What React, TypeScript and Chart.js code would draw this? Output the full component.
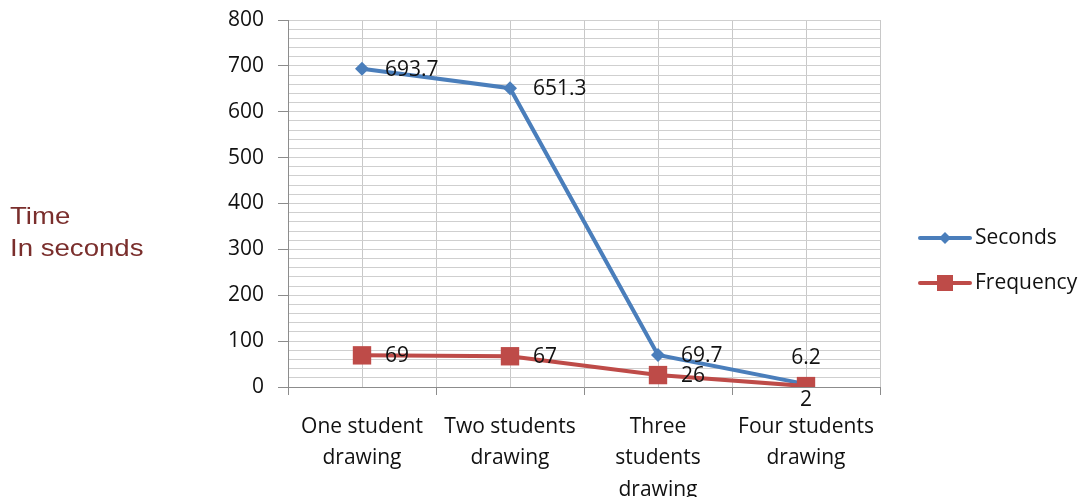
import React, { useEffect, useRef } from "react";
import { Chart, registerables } from "chart.js";

Chart.register(...registerables);

const categories: string[][] = [
  ["One student", "drawing"],
  ["Two students", "drawing"],
  ["Three", "students", "drawing"],
  ["Four students", "drawing"],
];
const secondsValues = [693.7, 651.3, 69.7, 6.2];
const frequencyValues = [69, 67, 26, 2];
const yTickLabels = [0, 100, 200, 300, 400, 500, 600, 700, 800];

const BLUE = "#4A7EBB";
const RED = "#BE4B48";
const FONT = "'Open Sans', 'Noto Sans', sans-serif";

// where each value label sits relative to its point
const secondsPlacement = ["right", "right", "right", "above"];
const frequencyPlacement = ["right", "right", "right", "below"];

const valueLabels = {
  id: "valueLabels",
  afterDatasetsDraw(chart: Chart) {
    const ctx = chart.ctx;
    ctx.save();
    ctx.font = `21px ${FONT}`;
    ctx.fillStyle = "#111";
    chart.data.datasets.forEach((ds: any, di: number) => {
      const meta = chart.getDatasetMeta(di);
      const placement = di === 0 ? secondsPlacement : frequencyPlacement;
      meta.data.forEach((pt: any, i: number) => {
        const v = (ds.data[i] as any).y;
        const p = placement[i];
        ctx.textBaseline = "middle";
        if (p === "right") {
          ctx.textAlign = "left";
          ctx.fillText(String(v), pt.x + 23, pt.y + 1);
        } else if (p === "above") {
          ctx.textAlign = "center";
          ctx.fillText(String(v), pt.x, pt.y - 26);
        } else {
          ctx.textAlign = "center";
          ctx.fillText(String(v), pt.x, pt.y + 14);
        }
      });
    });
    ctx.restore();
  },
};

const sideLegend = {
  id: "sideLegend",
  afterDraw(chart: Chart) {
    const ctx = chart.ctx;
    const items = [
      { label: "Seconds", color: BLUE, style: "diamond", y: 238 },
      { label: "Frequency", color: RED, style: "square", y: 283 },
    ];
    ctx.save();
    items.forEach((it) => {
      ctx.strokeStyle = it.color;
      ctx.lineWidth = 4;
      ctx.lineCap = "round";
      ctx.beginPath();
      ctx.moveTo(920, it.y);
      ctx.lineTo(970, it.y);
      ctx.stroke();
      ctx.fillStyle = it.color;
      const cx = 945;
      if (it.style === "diamond") {
        ctx.beginPath();
        ctx.moveTo(cx, it.y - 6);
        ctx.lineTo(cx + 6, it.y);
        ctx.lineTo(cx, it.y + 6);
        ctx.lineTo(cx - 6, it.y);
        ctx.closePath();
        ctx.fill();
      } else {
        ctx.fillRect(cx - 8, it.y - 8, 16, 16);
      }
      ctx.fillStyle = "#111";
      ctx.font = `21px ${FONT}`;
      ctx.textAlign = "left";
      ctx.textBaseline = "middle";
      ctx.fillText(it.label, 975, it.y);
    });
    ctx.restore();
  },
};

export default function App() {
  const ref = useRef<HTMLCanvasElement>(null);

  useEffect(() => {
    document.body.style.margin = "0";
    const canvas = ref.current!;
    const chart = new Chart(canvas, {
      type: "line",
      data: {
        datasets: [
          {
            label: "Seconds",
            data: secondsValues.map((v, i) => ({ x: i, y: v })),
            borderColor: BLUE,
            backgroundColor: BLUE,
            borderWidth: 4,
            pointStyle: "rectRot",
            pointRadius: 7,
            pointBorderWidth: 0,
            order: 2,
          },
          {
            label: "Frequency",
            data: frequencyValues.map((v, i) => ({ x: i, y: v })),
            borderColor: RED,
            backgroundColor: RED,
            borderWidth: 4,
            pointStyle: "rect",
            pointRadius: 13,
            pointBorderWidth: 0,
            order: 1,
          },
        ],
      },
      options: {
        animation: false,
        responsive: false,
        layout: { padding: { left: 0, top: 20, right: 208, bottom: 0 } },
        plugins: {
          legend: { display: false },
          tooltip: { enabled: false },
        },
        scales: {
          x: {
            type: "linear",
            min: -0.5,
            max: 3.5,
            afterBuildTicks(scale: any) {
              const t = [];
              for (let v = -0.5; v <= 3.5001; v += 0.5) t.push({ value: v });
              scale.ticks = t;
            },
            afterFit(scale: any) {
              scale.height = 110;
              scale.paddingLeft = 0;
              scale.paddingRight = 0;
            },
            ticks: {
              autoSkip: false,
              maxRotation: 0,
              padding: 16,
              color: "#111",
              font: { family: FONT, size: 21, lineHeight: 1.5 },
              callback: (v: any) =>
                Number.isInteger(v) ? categories[v as number] : "",
            },
            grid: {
              color: "#C8C8C8",
              lineWidth: 1,
              tickLength: 8,
              tickColor: (c: any) =>
                c.tick && Number.isInteger(c.tick.value) ? "rgba(0,0,0,0)" : "#8C8C8C",
            },
            border: { color: "#8C8C8C", width: 1 },
          },
          y: {
            min: 0,
            max: 800,
            afterBuildTicks(scale: any) {
              const t = [];
              for (let v = 0; v <= 800; v += 20) t.push({ value: v });
              scale.ticks = t;
            },
            afterFit(scale: any) {
              scale.width = 288;
              scale.paddingTop = 0;
              scale.paddingBottom = 0;
            },
            ticks: {
              autoSkip: false,
              padding: 14,
              color: "#111",
              font: { family: FONT, size: 21 },
              callback: (v: any) =>
                yTickLabels.includes(v as number) ? String(v) : "",
            },
            grid: {
              color: "#CFCFCF",
              lineWidth: 1,
              tickLength: 10,
              tickColor: (c: any) =>
                c.tick && c.tick.value % 100 === 0 ? "#8C8C8C" : "rgba(0,0,0,0)",
            },
            border: { color: "#8C8C8C", width: 1 },
          },
        },
      },
      plugins: [valueLabels, sideLegend],
    });
    return () => chart.destroy();
  }, []);

  return (
    <div style={{ position: "absolute", left: 0, top: 0, width: 1088, height: 497, background: "#fff" }}>
      <canvas ref={ref} width={1088} height={497} />
      <div
        style={{
          position: "absolute",
          left: 10,
          top: 200,
          fontFamily: "'Liberation Sans', Arial, sans-serif",
          fontSize: 24,
          lineHeight: "32px",
          color: "#7A2E2C",
          transform: "scaleX(1.15)",
          transformOrigin: "left top",
          whiteSpace: "nowrap",
        }}
      >
        Time
        <br />
        In seconds
      </div>
    </div>
  );
}
